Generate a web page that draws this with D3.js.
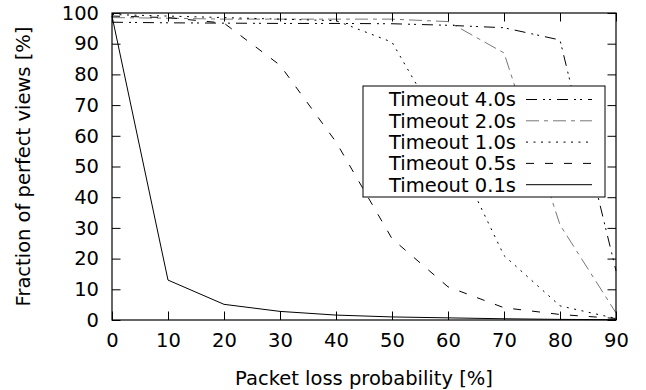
<!DOCTYPE html>
<html>
<head>
<meta charset="utf-8">
<script src="https://cdn.jsdelivr.net/npm/d3@7"></script>
<style>
    body { margin: 0; background: #fff; }
    text { font-family: "DejaVu Sans", sans-serif; font-size: 19.5px; fill: #000; }
</style>
</head>
<body>
<script>

// data
var loss = [0, 10, 20, 30, 40, 50, 60, 70, 80, 90];
var xTicks = [0, 10, 20, 30, 40, 50, 60, 70, 80, 90];
var yTicks = [0, 10, 20, 30, 40, 50, 60, 70, 80, 90, 100];

var t40 = [97, 96.8, 96.7, 96.6, 96.6, 96.5, 96, 95.2, 91.2, 16];
var t20 = [98.5, 98.3, 98, 98, 98, 98, 97.2, 87, 31, 2.3];
var t10 = [99.5, 99, 98.5, 98, 97.5, 90.5, 59, 21, 4.6, 0.5];
var t05 = [99, 98.5, 96.7, 83, 58, 26.5, 10.8, 4, 1.8, 0.5];
var t01 = [99, 13, 5.1, 2.8, 1.6, 1.0, 0.7, 0.4, 0.2, 0.1];

var seriesNames = ["Timeout 4.0s", "Timeout 2.0s", "Timeout 1.0s", "Timeout 0.5s", "Timeout 0.1s"];
var seriesValues = [t40, t20, t10, t05, t01];

// styles for each line (gnuplot-ish)
var dashes = ["11,6,2,4,2,6", "13,5,4,5", "2,5.5", "8,11", null];
var colours = ["#000", "#777", "#000", "#000", "#000"];

var margin = { top: 13, right: 30, bottom: 70, left: 112 };
var width = 646 - margin.left - margin.right;
var height = 390 - margin.top - margin.bottom;
var tickLen = 8.5;

var x = d3.scaleLinear()
    .domain([0, 90])
    .range([0, width]);

var y = d3.scaleLinear()
    .domain([0, 100])
    .range([height, 0]);

var svg = d3.select("body")
    .append("svg")
    .attr("width", 646)
    .attr("height", 390)
    .append("g")
    .attr("transform", "translate(" + margin.left + "," + margin.top + ")");

// lines
var line = d3.line()
    .x(function (d, i) { return x(loss[i]); })
    .y(function (d) { return y(d); });

svg.append("g").attr("class", "lines")
    .selectAll("path")
    .data(seriesValues)
    .enter().append("path")
    .attr("fill", "none")
    .attr("stroke", function (d, i) { return colours[i]; })
    .attr("stroke-width", 1)
    .attr("stroke-dasharray", function (d, i) { return dashes[i]; })
    .attr("d", line);

// axes, ticks inward on all four sides
svg.append("g")
    .attr("transform", "translate(0," + height + ")")
    .call(d3.axisBottom(x).tickValues(xTicks).tickSizeInner(-tickLen).tickSizeOuter(0).tickPadding(13));
svg.append("g")
    .call(d3.axisTop(x).tickValues(xTicks).tickSizeInner(-tickLen).tickSizeOuter(0).tickFormat(""));
svg.append("g")
    .call(d3.axisLeft(y).tickValues(yTicks).tickSizeInner(-tickLen).tickSizeOuter(0).tickPadding(13));
svg.append("g")
    .attr("transform", "translate(" + width + ",0)")
    .call(d3.axisRight(y).tickValues(yTicks).tickSizeInner(-tickLen).tickSizeOuter(0).tickFormat(""));

svg.selectAll(".domain").remove();
svg.selectAll(".tick line").attr("stroke", "#000");
svg.selectAll(".tick text").attr("font-size", null).attr("font-family", null);

// border
svg.append("rect")
    .attr("width", width)
    .attr("height", height)
    .attr("fill", "none")
    .attr("stroke", "#000")
    .attr("stroke-width", 1.2);

// axis labels
svg.append("text")
    .attr("x", width / 2)
    .attr("y", height + 65)
    .style("text-anchor", "middle")
    .text("Packet loss probability [%]");

svg.append("text")
    .attr("transform", "translate(-82," + (height / 2) + "),rotate(-90)")
    .style("text-anchor", "middle")
    .text("Fraction of perfect views [%]");

// legend
var legend = svg.append("g").attr("class", "legend")
    .attr("transform", "translate(" + (363 - margin.left) + "," + (86 - margin.top) + ")");

legend.append("rect")
    .attr("width", 242)
    .attr("height", 111)
    .attr("fill", "#fff")
    .attr("stroke", "#000")
    .attr("stroke-width", 1);

var rows = legend.selectAll("g.row")
    .data(seriesNames)
    .enter().append("g")
    .attr("class", "row")
    .attr("transform", function (d, i) { return "translate(0," + (13.5 + i * 21.3) + ")"; });

rows.append("text")
    .attr("x", 153)
    .attr("dy", ".35em")
    .style("text-anchor", "end")
    .text(function (d) { return d; });

rows.append("line")
    .attr("x1", 163)
    .attr("x2", 229)
    .attr("stroke", function (d, i) { return colours[i]; })
    .attr("stroke-width", 1)
    .attr("stroke-dasharray", function (d, i) { return dashes[i]; });

</script>
</body>
</html>
